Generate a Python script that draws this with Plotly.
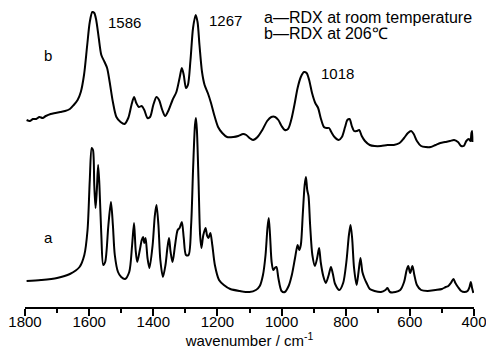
import plotly.graph_objects as go

# Spectrum a (RDX at room temperature), wavenumber cm^-1 and intensity (a.u., stacked)
wn_a = [1795, 1750, 1700, 1660, 1630, 1615, 1605, 1598, 1592, 1588, 1584, 1580, 1576, 1572, 1568,
        1562, 1556, 1550, 1540, 1532, 1526, 1520, 1510, 1500, 1488, 1475, 1466, 1460, 1455, 1450,
        1442, 1436, 1432, 1428, 1424, 1418, 1412, 1402, 1395, 1390, 1384, 1378, 1370, 1362, 1356,
        1351, 1346, 1340, 1332, 1324, 1318, 1311, 1305, 1298, 1290, 1282, 1276, 1270, 1267, 1264,
        1259, 1254, 1250, 1244, 1237, 1232, 1228, 1222, 1216, 1208, 1195, 1180, 1160, 1130, 1100,
        1080, 1068, 1058, 1050, 1044, 1040, 1036, 1031, 1026, 1021, 1016, 1010, 1000, 990, 978,
        968, 958, 950, 945, 940, 934, 928, 924, 920, 916, 911, 904, 896, 889, 883,
        878, 870, 862, 853, 846, 840, 833, 820, 808, 798, 790, 785, 780, 774, 766,
        760, 754, 748, 742, 735, 725, 710, 690, 676, 670, 662, 645, 630, 618, 610,
        605, 599, 592, 586, 578, 565, 545, 520, 500, 488, 480, 472, 464, 458, 450,
        440, 430, 420, 414, 410, 406, 402]
int_a = [0.26, 0.27, 0.29, 0.33, 0.40, 0.52, 0.77, 1.27, 1.59, 1.57, 1.22, 0.99, 1.17, 1.42, 1.22,
         0.72, 0.42, 0.45, 0.82, 1.05, 0.82, 0.52, 0.35, 0.30, 0.28, 0.35, 0.62, 0.84, 0.57, 0.45,
         0.57, 0.67, 0.70, 0.64, 0.69, 0.49, 0.39, 0.62, 0.92, 1.02, 0.82, 0.47, 0.30, 0.42, 0.59,
         0.69, 0.55, 0.45, 0.62, 0.77, 0.79, 0.85, 0.69, 0.52, 0.52, 0.82, 1.37, 1.82, 1.89, 1.77,
         1.27, 0.72, 0.59, 0.72, 0.79, 0.71, 0.69, 0.74, 0.62, 0.42, 0.27, 0.22, 0.18, 0.16, 0.15,
         0.17, 0.21, 0.32, 0.52, 0.79, 0.89, 0.72, 0.45, 0.37, 0.39, 0.40, 0.29, 0.16, 0.15, 0.21,
         0.32, 0.49, 0.62, 0.57, 0.62, 0.92, 1.22, 1.30, 1.17, 1.11, 0.82, 0.52, 0.41, 0.49, 0.59,
         0.45, 0.31, 0.24, 0.32, 0.40, 0.33, 0.23, 0.17, 0.24, 0.45, 0.72, 0.82, 0.69, 0.39, 0.22,
         0.35, 0.49, 0.35, 0.29, 0.24, 0.18, 0.16, 0.15, 0.17, 0.19, 0.15, 0.15, 0.17, 0.25, 0.37,
         0.41, 0.34, 0.41, 0.32, 0.22, 0.17, 0.16, 0.17, 0.18, 0.20, 0.21, 0.24, 0.28, 0.24, 0.20,
         0.16, 0.15, 0.16, 0.20, 0.25, 0.19, 0.14]

# Spectrum b (RDX at 206 C), offset for stacking
wn_b = [1795, 1785, 1775, 1765, 1755, 1745, 1735, 1720, 1705, 1690, 1675, 1660, 1648, 1636, 1626,
        1616, 1606, 1598, 1590, 1584, 1578, 1570, 1562, 1552, 1544, 1536, 1526, 1515, 1502, 1490,
        1478, 1468, 1460, 1453, 1445, 1436, 1428, 1418, 1410, 1400, 1390, 1382, 1372, 1363, 1352,
        1340, 1328, 1318, 1311, 1305, 1298, 1292, 1284, 1276, 1268, 1262, 1256, 1248, 1240, 1230,
        1220, 1210, 1198, 1185, 1170, 1150, 1135, 1120, 1110, 1100, 1089, 1075, 1060, 1045, 1032,
        1020, 1010, 1000, 990, 980, 970, 960, 950, 940, 930, 922, 914, 905, 895, 886,
        878, 868, 860, 852, 845, 835, 822, 812, 802, 795, 788, 781, 774, 766, 758,
        750, 740, 725, 710, 690, 670, 650, 632, 618, 606, 596, 588, 578, 565, 550,
        535, 520, 505, 490, 475, 462, 450, 440, 432, 424, 416, 411, 408, 406, 405]
int_b = [1.87, 1.86, 1.88, 1.88, 1.90, 1.89, 1.91, 1.93, 1.94, 1.95, 1.96, 1.98, 2.02, 2.07, 2.15,
         2.32, 2.62, 2.85, 2.95, 2.94, 2.87, 2.69, 2.52, 2.45, 2.39, 2.25, 2.05, 1.90, 1.85, 1.83,
         1.89, 2.02, 2.10, 2.04, 2.00, 2.01, 1.97, 1.89, 1.90, 2.02, 2.10, 2.07, 1.97, 1.91, 1.97,
         2.07, 2.15, 2.29, 2.39, 2.32, 2.19, 2.22, 2.47, 2.79, 2.92, 2.85, 2.62, 2.35, 2.22, 2.14,
         2.04, 1.92, 1.80, 1.74, 1.70, 1.70, 1.71, 1.73, 1.72, 1.69, 1.67, 1.70, 1.77, 1.86, 1.90,
         1.90, 1.87, 1.81, 1.77, 1.78, 1.87, 2.02, 2.19, 2.30, 2.35, 2.34, 2.27, 2.14, 2.04, 1.99,
         1.89, 1.80, 1.79, 1.79, 1.75, 1.70, 1.67, 1.70, 1.80, 1.87, 1.88, 1.81, 1.76, 1.76, 1.77,
         1.71, 1.66, 1.62, 1.61, 1.61, 1.62, 1.62, 1.64, 1.69, 1.74, 1.76, 1.73, 1.66, 1.61, 1.60,
         1.60, 1.62, 1.64, 1.65, 1.66, 1.67, 1.65, 1.61, 1.61, 1.66, 1.68, 1.66, 1.74, 1.76, 1.65]

x_ticks = [1800, 1600, 1400, 1200, 1000, 800, 600, 400]

# Text labels: (text, wavenumber, intensity, anchor)
labels = [
    ("1586", 1547, 2.85, "left"),
    ("1267", 1232, 2.87, "left"),
    ("1018", 883, 2.34, "left"),
    ("b", 1728, 2.52, "center"),
    ("a", 1728, 0.70, "center"),
]
legend_lines = [("a\u2014RDX at room temperature", 1061, 2.90),
                ("b\u2014RDX at 206\u2103", 1061, 2.74)]

FONT = "Liberation Sans, Arial, sans-serif"

fig = go.Figure()
for wn, iv in [(wn_a, int_a), (wn_b, int_b)]:
    fig.add_trace(go.Scatter(x=wn, y=iv, mode="lines",
                             line=dict(color="black", width=2, shape="spline", smoothing=0.8),
                             showlegend=False, hoverinfo="skip"))

annotations = []
for t, x, y, anc in labels:
    annotations.append(dict(text=t, x=x, y=y, xref="x", yref="y", xanchor=anc, yanchor="middle",
                            showarrow=False, font=dict(family=FONT, size=15, color="black")))
for t, x, y in legend_lines:
    annotations.append(dict(text=t, x=x, y=y, xref="x", yref="y", xanchor="left", yanchor="middle",
                            showarrow=False, font=dict(family=FONT, size=16, color="black")))

fig.update_layout(
    width=486, height=361,
    margin=dict(l=25, r=12, t=0, b=54),
    paper_bgcolor="white", plot_bgcolor="white",
    font=dict(family=FONT, color="black", size=15),
    annotations=annotations,
    xaxis=dict(range=[1800, 400], tickvals=x_ticks, ticktext=[str(v) for v in x_ticks],
               showline=True, linecolor="black", linewidth=1.5, showgrid=False, zeroline=False,
               ticks="outside", ticklen=7, tickwidth=1.5, tickcolor="black",
               ticklabeloverflow="allow", ticklabelstandoff=-7,
               minor=dict(dtick=100, tick0=400, ticks="outside", ticklen=4, tickwidth=1.5, tickcolor="black", showgrid=False),
               tickfont=dict(size=15),
               title=dict(text="wavenumber / cm<sup>-1</sup>", font=dict(size=15), standoff=0)),
    yaxis=dict(range=[0, 3.07], visible=False, showgrid=False, zeroline=False),
)

fig.write_html("out.html")
